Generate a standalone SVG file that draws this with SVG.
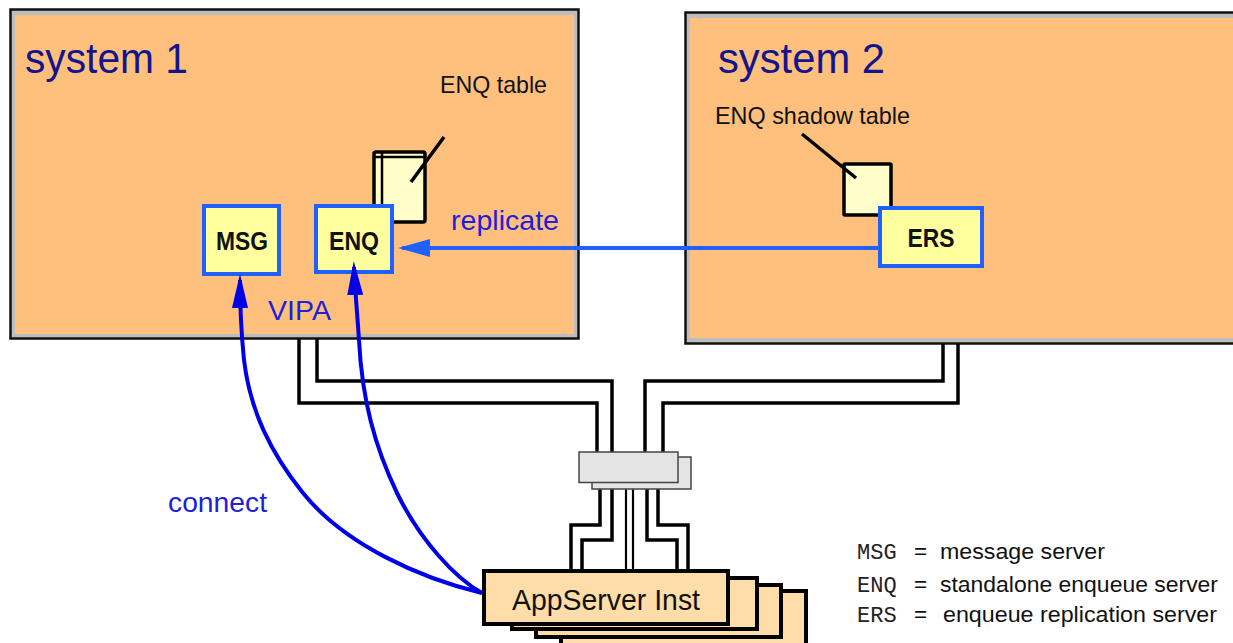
<svg xmlns="http://www.w3.org/2000/svg" width="1233" height="643" viewBox="0 0 1233 643">
<style>
.sysOuter{fill:#bdbdbd;stroke:#111;stroke-width:2.5}
.sysInner{fill:#fec07c}
.sysLbl{font-family:"Liberation Sans",Arial,sans-serif;font-size:42px;fill:#14148c}
.lbl{font-family:"Liberation Sans",Arial,sans-serif;font-size:24px;fill:#111}
.blueLbl{font-family:"Liberation Sans",Arial,sans-serif;font-size:28px;fill:#2020d8}
.srv{fill:#ffff9e;stroke:#2060ff;stroke-width:4}
.srvTxt{font-family:"Liberation Sans",Arial,sans-serif;font-size:25px;font-weight:bold;fill:#111;text-anchor:middle}
.tbl{fill:#ffffcc;stroke:#000;stroke-width:3.5}
.ptr{stroke:#000;stroke-width:3.5;fill:none}
.cable{fill:none;stroke:#000;stroke-width:3.5;stroke-linejoin:miter}
.thin{fill:none;stroke:#000;stroke-width:2.2}
.sw{fill:#e4e4e4;stroke:#444;stroke-width:1.5}
.app{fill:#fedda8;stroke:#000;stroke-width:4}
.appTxt{font-family:"Liberation Sans",Arial,sans-serif;font-size:30px;fill:#111}
.conn{fill:none;stroke:#0000e6;stroke-width:4}
.repl{fill:none;stroke:#2060ff;stroke-width:4}
.mono{font-family:"Liberation Mono","Courier New",monospace;font-size:22px;fill:#222}
.leg{font-family:"Liberation Sans",Arial,sans-serif;font-size:22.5px;fill:#111}
</style>
<defs>
<marker id="ahR" markerUnits="userSpaceOnUse" markerWidth="34" markerHeight="22" refX="28" refY="11" orient="auto">
<path d="M0,2 L32,11 L0,20 z" fill="#2060ff"/>
</marker>
<marker id="ahC" markerUnits="userSpaceOnUse" markerWidth="36" markerHeight="18" refX="28" refY="9" orient="auto">
<path d="M0,1 L34,9 L0,17 z" fill="#0000e6"/>
</marker>
</defs>

<g id="system1">
<rect class="sysOuter" x="10.5" y="9.5" width="568" height="329"/>
<rect class="sysInner" x="15" y="15" width="559" height="319"/>
<text class="sysLbl" x="25" y="73" textLength="163" lengthAdjust="spacingAndGlyphs">system 1</text>
</g>

<g id="system2">
<rect class="sysOuter" x="685.5" y="12.5" width="560" height="331"/>
<rect class="sysInner" x="690" y="18" width="560" height="320"/>
<text class="sysLbl" x="718" y="73" textLength="167" lengthAdjust="spacingAndGlyphs">system 2</text>
</g>

<g id="cables">
<path class="cable" d="M299,339 V403 H597 V452"/>
<path class="cable" d="M317,339 V381 H612 V452"/>
<path class="cable" d="M943,344 V381 H645 V452"/>
<path class="cable" d="M958,344 V403 H663 V452"/>
<path class="cable" d="M600,489 V525 H571 V572"/>
<path class="cable" d="M612,489 V540 H582 V572"/>
<path class="thin" d="M626,486 V572"/>
<path class="thin" d="M633,486 V572"/>
<path class="cable" d="M647,489 V540 H677 V572"/>
<path class="cable" d="M658,489 V525 H688 V572"/>
</g>

<g id="switch">
<rect class="sw" x="592" y="457" width="99" height="32"/>
<rect class="sw" x="579" y="452" width="99" height="30.5"/>
</g>

<g id="enq-table">
<rect class="tbl" x="374" y="152" width="51" height="70" rx="2"/>
<path class="ptr" d="M382,152 V222 M374,157 H425" style="stroke-width:2.5"/>
<line class="ptr" x1="444" y1="137" x2="411" y2="182"/>
<text class="lbl" x="440" y="93" textLength="107" lengthAdjust="spacingAndGlyphs">ENQ table</text>
</g>

<g id="enq-shadow-table">
<rect class="tbl" x="844" y="164" width="47" height="51" rx="1"/>
<line class="ptr" x1="802" y1="134" x2="856" y2="178"/>
<text class="lbl" x="715" y="124" textLength="195" lengthAdjust="spacingAndGlyphs">ENQ shadow table</text>
</g>

<g id="msg">
<rect class="srv" x="204" y="206" width="75" height="68"/>
<text class="srvTxt" x="242" y="250" textLength="52" lengthAdjust="spacingAndGlyphs">MSG</text>
</g>

<g id="enq">
<rect class="srv" x="316" y="206" width="76" height="66"/>
<text class="srvTxt" x="354" y="250" textLength="50" lengthAdjust="spacingAndGlyphs">ENQ</text>
</g>

<g id="ers">
<rect class="srv" x="880" y="208" width="102" height="58"/>
<text class="srvTxt" x="931" y="247" textLength="47" lengthAdjust="spacingAndGlyphs">ERS</text>
</g>

<g id="appservers">
<rect class="app" x="561" y="591" width="245" height="56"/>
<rect class="app" x="536" y="585" width="245" height="52"/>
<rect class="app" x="512" y="578" width="245" height="51"/>
<rect class="app" x="484" y="571" width="244" height="53"/>
<text class="appTxt" x="512" y="610" textLength="188" lengthAdjust="spacingAndGlyphs">AppServer Inst</text>
</g>

<g id="connectors">
<path class="repl" d="M879,248 H402" marker-end="url(#ahR)"/>
<path class="conn" d="M482,593 C420,578 345,545 303,493 C270,452 250,410 244,360 C241,330 240,305 240,280" marker-end="url(#ahC)"/>
<path class="conn" d="M482,593 C455,578 420,540 397,493 C375,447 362,400 359,340 C357,310 355,290 354,267" marker-end="url(#ahC)"/>
<text class="blueLbl" x="451" y="230" textLength="108" lengthAdjust="spacingAndGlyphs">replicate</text>
<text class="blueLbl" x="268" y="320" textLength="63" lengthAdjust="spacingAndGlyphs">VIPA</text>
<text class="blueLbl" x="168" y="512" textLength="99" lengthAdjust="spacingAndGlyphs">connect</text>
</g>

<g id="legend">
<text class="mono" x="857" y="559">MSG</text>
<text class="leg" x="914" y="559">=</text>
<text class="leg" x="940" y="559" textLength="165" lengthAdjust="spacingAndGlyphs">message server</text>
<text class="mono" x="857" y="592">ENQ</text>
<text class="leg" x="914" y="592">=</text>
<text class="leg" x="940" y="592" textLength="278" lengthAdjust="spacingAndGlyphs">standalone enqueue server</text>
<text class="mono" x="857" y="622">ERS</text>
<text class="leg" x="914" y="622">=</text>
<text class="leg" x="943" y="622" textLength="274" lengthAdjust="spacingAndGlyphs">enqueue replication server</text>
</g>
</svg>
